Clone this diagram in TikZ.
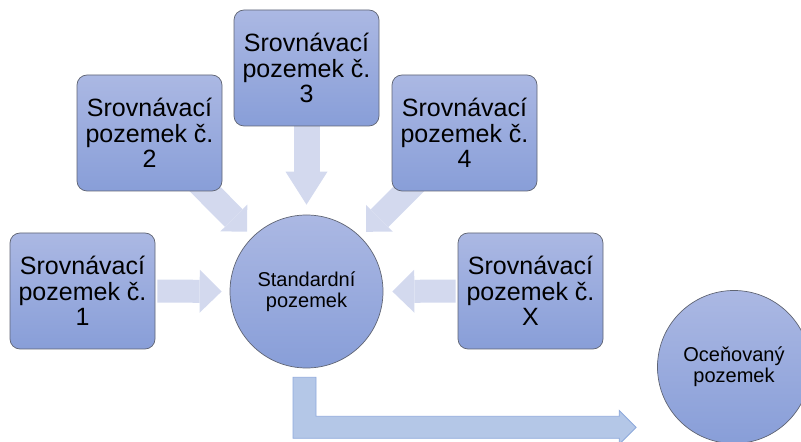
\documentclass[tikz,border=0pt]{standalone}
\usepackage{fontspec}
\setmainfont{Liberation Sans}
\usetikzlibrary{arrows.meta,backgrounds,calc}
\definecolor{boxtop}{RGB}{171,184,227}
\definecolor{boxbot}{RGB}{136,158,216}
\definecolor{boxline}{RGB}{95,100,115}
\definecolor{flowfill}{RGB}{211,217,238}
\definecolor{bentfill}{RGB}{180,199,231}
\definecolor{bentline}{RGB}{143,170,220}
\tikzset{
  srbox/.style={rectangle, rounded corners=10pt, minimum width=145pt, minimum height=116pt,
    top color=boxtop, bottom color=boxbot, draw=boxline, line width=0.7pt,
    align=center, inner sep=0pt, font=\fontsize{25}{25.5}\selectfont},
  srcirc/.style={circle, minimum size=153pt, top color=boxtop, bottom color=boxbot,
    draw=boxline, line width=0.7pt, align=center, inner sep=0pt,
    font=\fontsize{20}{21}\selectfont},
  flowh/.style={draw=flowfill, line width=23pt,
    -{Triangle[width=43pt,length=22pt,line width=0pt]}},
  flowv/.style={draw=flowfill, line width=26pt,
    -{Triangle[width=42pt,length=33pt,line width=0pt]}},
  flowd/.style={draw=flowfill, line width=25pt,
    -{Triangle[width=38pt,length=19pt,line width=0pt]}},
  bentarr/.style={fill=bentfill, draw=bentline, line width=0.8pt}
}
\begin{document}
\begin{tikzpicture}[x=1pt,y=1pt]
\useasboundingbox (0,0) rectangle (801,442);
\node[srbox] (b1) at (82.5,151) {Srovnávací\\pozemek č.\\1};
\node[srbox] (b2) at (149.5,309) {Srovnávací\\pozemek č.\\2};
\node[srbox] (b3) at (306.5,374) {Srovnávací\\pozemek č.\\3};
\node[srbox] (b4) at (464.5,309) {Srovnávací\\pozemek č.\\4};
\node[srbox] (bx) at (530.5,151) {Srovnávací\\pozemek č.\\X};
\node[srcirc] (std) at (306.5,150.5) {Standardní\\pozemek};
\node[srcirc] (oc) at (734,75) {Oceňovaný\\pozemek};
\begin{scope}[on background layer]
  \draw[flowh, shorten <=2pt, shorten >=8pt] (b1.east) -- (std.west);
  \draw[flowh, shorten <=2pt, shorten >=9pt] (bx.west) -- (std.east);
  \draw[flowv, shorten >=10pt] (b3.south) -- (std.north);
  \draw[flowd, shorten >=7.5pt] (b2.center) -- (std);
  \draw[flowd, shorten >=7.5pt] (b4.center) -- (std);
\end{scope}
\draw[bentarr] let \p1=(std.south), \p2=(oc.west) in
  (\x1-13.5pt,\y1-9pt) -- (\x1+9.5pt,\y1-9pt) -- (\x1+9.5pt,\y1-48pt)
  -- (\x2-38pt,\y1-48pt) -- (\x2-38pt,\y1-42pt) -- (\x2-21pt,\y1-59pt)
  -- (\x2-38pt,\y1-76pt) -- (\x2-38pt,\y1-70pt) -- (\x1-13.5pt,\y1-70pt) -- cycle;
\end{tikzpicture}
\end{document}
